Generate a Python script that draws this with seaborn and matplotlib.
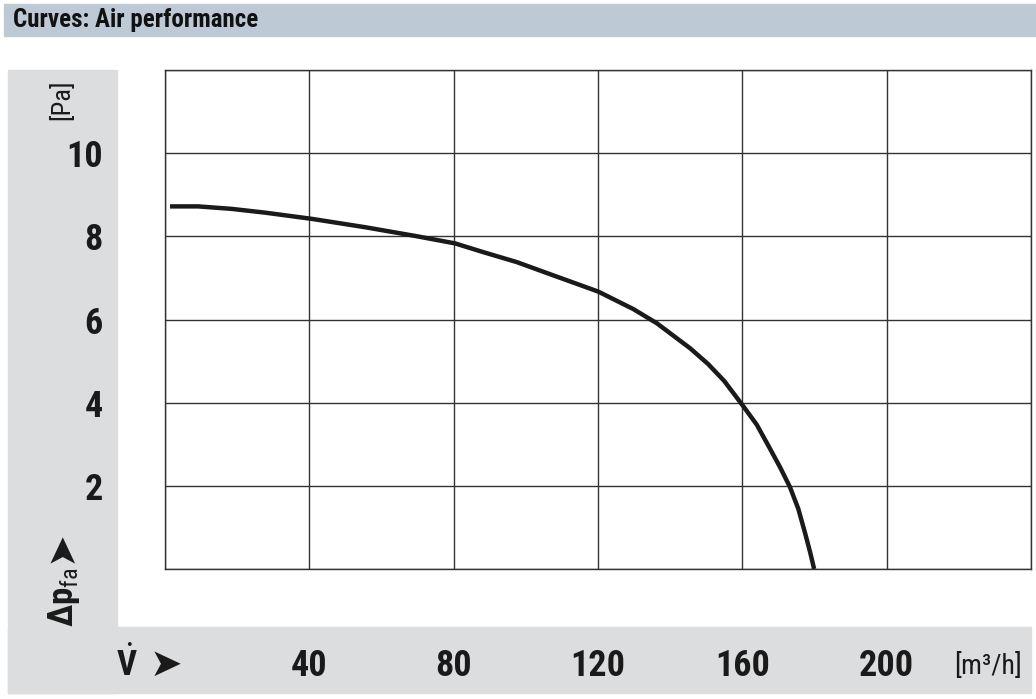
import numpy as np
import pandas as pd
import matplotlib
matplotlib.use("Agg")
import matplotlib.pyplot as plt
import seaborn as sns
from matplotlib import font_manager
from matplotlib.patches import Rectangle

# air performance curve
flow = [1.4, 9.2, 18.5, 27.7, 40.7, 55.4, 69.3, 80.4, 88.2, 97.5, 106.7, 120.1,
        129.8, 136.3, 145.5, 150.5, 155.0, 160.3, 164.0, 167.5, 170.5, 173.2,
        175.5, 177.4, 178.8, 179.9]
pressure = [8.72, 8.72, 8.66, 8.57, 8.42, 8.22, 8.01, 7.83, 7.62, 7.38, 7.09, 6.67,
            6.25, 5.91, 5.31, 4.93, 4.52, 3.91, 3.47, 2.92, 2.44, 1.97,
            1.45, 0.86, 0.40, 0.0]
x_ticks = [40, 80, 120, 160, 200]
y_ticks = [2, 4, 6, 8, 10]

# pick a narrow sans if there is one, else an Arial-like one
fonts = font_manager.fontManager.ttflist
names = {f.name for f in fonts}
narrow = None
stretch = "normal"
for n in ["Liberation Sans Narrow", "Roboto Condensed", "Open Sans Condensed", "Noto Sans Condensed"]:
    if n in names:
        narrow = n
        break
if narrow is None:
    for f in fonts:
        if f.name in ("DejaVu Sans", "Noto Sans", "Open Sans", "Roboto") and str(f.stretch) in (
                "condensed", "semi-condensed", "extra-condensed"):
            narrow = f.name
            stretch = f.stretch
            break
if narrow is None:
    narrow = "Liberation Sans"
fam = [narrow, "DejaVu Sans"]

sns.set_style("white")
plt.rcParams["font.family"] = fam
plt.rcParams["font.stretch"] = stretch
plt.rcParams["mathtext.fontset"] = "custom"
plt.rcParams["mathtext.rm"] = narrow
plt.rcParams["mathtext.it"] = narrow
plt.rcParams["mathtext.bf"] = narrow + ":bold"

W, H = 1036, 699
fig = plt.figure(figsize=(W / 100, H / 100), dpi=100)


def fx(px):
    return px / W


def fy(py):
    return 1 - py / H


gray = "#dcdddf"
ink = "#1a1a1a"
# header band and the L shaped gray panel
fig.patches.append(Rectangle((fx(4), fy(36)), fx(1032), 32 / H, transform=fig.transFigure,
                             color="#bdc9d5", zorder=0))
fig.patches.append(Rectangle((fx(8), fy(693)), fx(109), (693 - 70) / H, transform=fig.transFigure,
                             color=gray, zorder=0))
fig.patches.append(Rectangle((fx(8), fy(693)), fx(1023), (693 - 627) / H, transform=fig.transFigure,
                             color=gray, zorder=0))

fig.text(fx(13), fy(20), "Curves: Air performance", fontsize=18, fontweight="bold",
         va="center", ha="left", color="#111111")

ax = fig.add_axes([fx(165), fy(569), fx(866), 499 / H])
df = pd.DataFrame({"flow": flow, "pressure": pressure})
sns.lineplot(data=df, x="flow", y="pressure", ax=ax, color=ink, linewidth=3.2,
             sort=False, estimator=None)
ax.lines[0].set_solid_joinstyle("round")
ax.lines[0].set_solid_capstyle("butt")

ax.set_xlim(0, 240)
ax.set_ylim(0, 12)
ax.set_xticks(np.arange(0, 241, 40))
ax.set_yticks(np.arange(0, 13, 2))
ax.grid(True, color="#333333", linewidth=1.0)
for s in ax.spines.values():
    s.set_visible(True)
    s.set_color("#333333")
    s.set_linewidth(1.0)
ax.set_xticklabels([])
ax.set_yticklabels([])
ax.tick_params(length=0)
ax.set_xlabel("")
ax.set_ylabel("")

# tick labels sit in the gray panels
for v in x_ticks:
    fig.text(fx(165 + v * 866 / 240), fy(666), str(v), fontsize=26, fontweight="bold",
             ha="center", va="center", color=ink)
for v in y_ticks:
    fig.text(fx(103), fy(573 - v * 499 / 12), str(v), fontsize=26, fontweight="bold",
             ha="right", va="center", color=ink)

fig.text(fx(988), fy(666), "[m³/h]", fontsize=20, ha="center", va="center", color=ink)
fig.text(fx(127), fy(664), r"$\dot{\mathbf{V}}$", fontsize=25, ha="center", va="center",
         color=ink)
fig.text(fx(166), fy(665), "➤", fontsize=28, ha="center", va="center", color=ink,
         family=fam[::-1])

fig.text(fx(62), fy(100), "[Pa]", fontsize=19, ha="center", va="center", rotation=90,
         color=ink)
fig.text(fx(64), fy(597), r"$\mathbf{\Delta p}_{\mathrm{fa}}$", fontsize=25, ha="center",
         va="center", rotation=90, color=ink)
fig.text(fx(61), fy(547), "➤", fontsize=28, ha="center", va="center", rotation=90,
         color=ink, family=fam[::-1])

fig.savefig("out.png", dpi=100)
